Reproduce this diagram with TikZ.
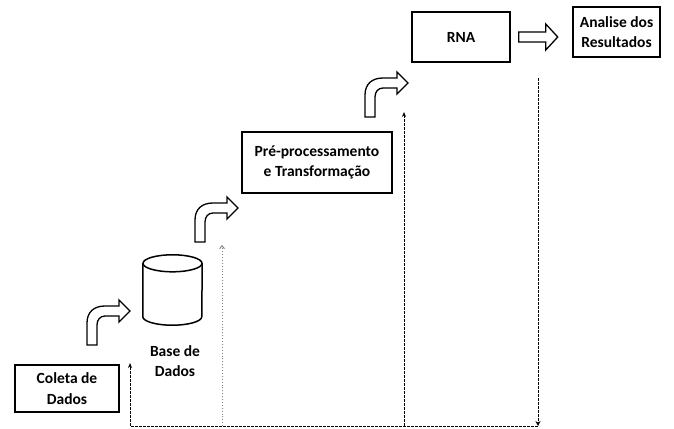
\documentclass[tikz,border=0pt]{standalone}
\usepackage{fontspec}
\setmainfont{Carlito}
\usetikzlibrary{arrows.meta, calc, positioning}

\begin{document}
\begin{tikzpicture} [x=1pt, y=-1pt,
	box/.style={draw, line width=1.5pt, inner sep=2pt, align=center,
		font=\fontsize{15.5}{20.5}\selectfont\bfseries},
	tag/.style={align=center, font=\fontsize{15.5}{20.5}\selectfont\bfseries},
	feedback/.style={line width=0.9pt, dash pattern=on 3pt off 1pt},
	faint/.style={dotted, line width=0.9pt, gray},
	bentarrow/.pic={
		\draw[line width=1.3pt, line join=miter, fill=white]
		(0,0) -- (0,-22) .. controls (0,-33) and (7,-39) .. (18,-39) -- (32,-39)
		-- (32,-45) -- (43,-34) -- (32,-23) -- (32,-29) -- (18,-29)
		.. controls (13,-29) and (10,-25) .. (10,-20) -- (10,0) -- cycle;
	},
	blockarrow/.pic={
		\draw[line width=1.3pt, line join=miter, fill=white]
		(0,-5) -- (27,-5) -- (27,-13) -- (39,0) -- (27,13) -- (27,5) -- (0,5) -- cycle;
	}]
	\useasboundingbox (0,0) rectangle (674,428);
	
	% stages
	\node[box, minimum width=104pt, minimum height=47pt] (coleta) at (67,388.5) {Coleta de\\Dados};
	\node[minimum width=59pt, minimum height=70pt, inner sep=0pt] (base) at (172.5,290) {};
	\draw[line width=1.5pt] ($(base.north west)+(0,8.5)$) -- ($(base.south west)+(0,-8.5)$)
		arc[start angle=180, end angle=360, x radius=29.5pt, y radius=8.5pt]
		-- ($(base.north east)+(0,8.5)$);
	\draw[line width=1.5pt] ($(base.north)+(0,8.5)$) ellipse[x radius=29.5pt, y radius=8.5pt];
	\node[tag] (basetag) at (175,361) {Base de\\Dados};
	\node[box, minimum width=150pt, minimum height=61pt] (preproc) at (317,162.5) {Pré-processamento\\e Transformação};
	\node[box, minimum width=98pt, minimum height=50pt] (rna) at (461,37) {RNA};
	\node[box, minimum width=87pt, minimum height=50pt] (analise) at (616.5,32) {Analise dos\\Resultados};
	
	% block arrows between stages
	\pic at (87,345) {bentarrow};
	\pic at (195,242) {bentarrow};
	\pic at (365,117) {bentarrow};
	\pic at ($(rna.east)+(8,0)$) {blockarrow};
	
	% feedback lines
	\coordinate (fbtop) at (538,78);
	\coordinate (fbcorner) at (538,426);
	\coordinate (fbstart) at (130,426);
	\coordinate (up1) at (130,363);
	\coordinate (up2) at (222,245);
	\coordinate (up3) at (404,112);
	\draw[feedback, -{Stealth[length=5pt, width=5pt]}] (fbtop) -- (fbcorner);
	\draw[feedback] (fbcorner) -- (fbstart);
	\draw[feedback, -{Stealth[length=5pt, width=4pt]}] (fbstart) -- (up1);
	\draw[faint, -{Straight Barb[length=3pt, width=5pt]}] (up2 |- fbstart) -- (up2);
	\draw[feedback, -{Stealth[length=5pt, width=4pt]}] (up3 |- fbstart) -- (up3);
	
\end{tikzpicture}
\end{document}
